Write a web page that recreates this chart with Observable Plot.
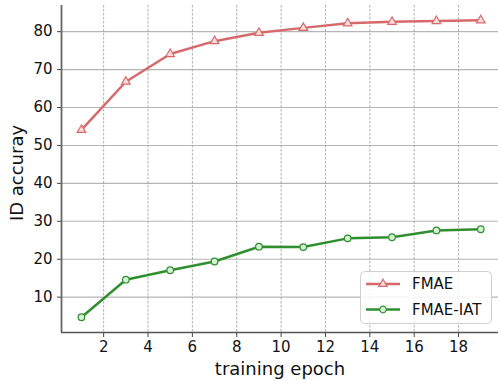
<!DOCTYPE html>
<html>
<head>
<meta charset="utf-8">
<script src="https://cdn.jsdelivr.net/npm/d3@7"></script>
<script src="https://cdn.jsdelivr.net/npm/@observablehq/plot@0.6"></script>
<style>
  html, body { margin: 0; padding: 0; background: #fff; }
  svg { display: block; }
  g[aria-label="x-axis tick label"], g[aria-label="y-axis tick label"] {
    font-size: 15px !important;
    font-family: 'DejaVu Sans' !important;
  }
</style>
</head>
<body>
<div id="chart"></div>
<script>
const epochs = [1, 3, 5, 7, 9, 11, 13, 15, 17, 19];
const fmae = [54.1, 66.8, 74.1, 77.5, 79.7, 81.0, 82.2, 82.6, 82.8, 83.0];
const fmaeIat = [4.7, 14.6, 17.1, 19.4, 23.3, 23.2, 25.5, 25.8, 27.6, 27.9];
const xTicks = [2, 4, 6, 8, 10, 12, 14, 16, 18];
const yTicks = [10, 20, 30, 40, 50, 60, 70, 80];
const seriesNames = ["FMAE", "FMAE-IAT"];
const xLabel = "training epoch";
const yLabel = "ID accuray";

const red = "#d66a6b";
const green = "#2f8f2f";
const redFill = "#f9dede";
const greenFill = "#d4f2d4";

const rows1 = epochs.map((e, i) => ({epoch: e, acc: fmae[i]}));
const rows2 = epochs.map((e, i) => ({epoch: e, acc: fmaeIat[i]}));

const xDomain = [0.1, 19.8];
const yDomain = [0.68, 86.9];

const chart = Plot.plot({
  width: 498,
  height: 381,
  marginLeft: 61,
  marginRight: 0,
  marginTop: 5,
  marginBottom: 49,
  style: {fontFamily: "'DejaVu Sans'", fontSize: "15px", color: "#111", background: "#fff"},
  x: {domain: xDomain},
  y: {domain: yDomain},
  marks: [
    Plot.gridY(yTicks, {stroke: "#b5b5b5", strokeOpacity: 1, strokeWidth: 1.1}),
    Plot.gridX(xTicks, {stroke: "#999", strokeOpacity: 1, strokeWidth: 0.8, strokeDasharray: "2.5,1.5"}),
    Plot.line(rows1, {x: "epoch", y: "acc", stroke: red, strokeWidth: 2.5}),
    Plot.dot(rows1, {x: "epoch", y: "acc", symbol: "triangle", r: 3.2, fill: redFill, stroke: red, strokeWidth: 1.2}),
    Plot.line(rows2, {x: "epoch", y: "acc", stroke: green, strokeWidth: 2.5}),
    Plot.dot(rows2, {x: "epoch", y: "acc", symbol: "circle", r: 3.3, fill: greenFill, stroke: green, strokeWidth: 1.2}),
    Plot.axisX(xTicks, {tickSize: 5, tickPadding: 4, fontSize: 15, label: null, stroke: "#444"}),
    Plot.axisY(yTicks, {tickSize: 4, tickPadding: 5, fontSize: 15, label: null, stroke: "#444"}),
    Plot.ruleX([xDomain[0]], {stroke: "#666", strokeWidth: 1.8}),
    Plot.ruleY([yDomain[0]], {stroke: "#555", strokeWidth: 1.5})
  ]
});

const svg = d3.select(chart);

// Axis labels
svg.append("text")
  .attr("x", 280).attr("y", 369).attr("dy", "0.35em")
  .attr("text-anchor", "middle").attr("font-size", 18)
  .attr("font-family", "'DejaVu Sans'").attr("fill", "#111")
  .text(xLabel);
svg.append("text")
  .attr("transform", "translate(17,173) rotate(-90)")
  .attr("dy", "0.35em")
  .attr("text-anchor", "middle").attr("font-size", 18)
  .attr("font-family", "'DejaVu Sans'").attr("fill", "#111")
  .text(yLabel);

// Legend drawn inside the SVG
const lg = svg.append("g").attr("font-family", "'DejaVu Sans'").attr("font-size", 15);
lg.append("rect")
  .attr("x", 360.5).attr("y", 271.5).attr("width", 131).attr("height", 52)
  .attr("rx", 4).attr("fill", "#fff").attr("fill-opacity", 0.85)
  .attr("stroke", "#d0d0d0").attr("stroke-width", 1);
const entries = [
  {name: seriesNames[0], color: red, fill: redFill, symbol: d3.symbolTriangle, size: 30},
  {name: seriesNames[1], color: green, fill: greenFill, symbol: d3.symbolCircle, size: 34}
];
entries.forEach((e, i) => {
  const cy = 284 + i * 25.5;
  lg.append("line").attr("x1", 366).attr("x2", 400).attr("y1", cy).attr("y2", cy)
    .attr("stroke", e.color).attr("stroke-width", 2.5);
  lg.append("path").attr("d", d3.symbol(e.symbol, e.size)())
    .attr("transform", `translate(383,${cy})`)
    .attr("fill", e.fill).attr("stroke", e.color).attr("stroke-width", 1.2);
  lg.append("text").attr("x", 412).attr("y", cy).attr("dy", "0.35em")
    .attr("text-anchor", "start")
    .attr("fill", "#111").text(e.name);
});

document.getElementById("chart").appendChild(chart);
</script>
</body>
</html>
